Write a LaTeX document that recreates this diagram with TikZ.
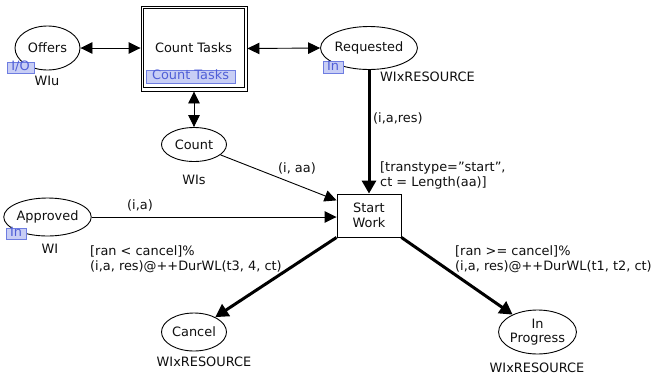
\documentclass[tikz,border=0pt]{standalone}
\usepackage{fontspec}
\setmainfont{DejaVu Sans}
\usetikzlibrary{arrows.meta,calc,shapes.geometric}

\definecolor{tagfill}{RGB}{200,206,245}
\definecolor{tagdraw}{RGB}{110,125,225}
\definecolor{tagtext}{RGB}{80,95,215}
\definecolor{ink}{RGB}{15,15,15}

\tikzset{
  txt/.style={font=\fontsize{12.9}{14.6}\selectfont, text=ink, inner sep=0pt},
  place/.style={txt, draw=black, line width=0.9pt, ellipse, inner sep=0pt},
  trans/.style={txt, draw=black, line width=0.9pt, rectangle, inner sep=0pt},
  tag/.style={font=\fontsize{12.9}{14.6}\selectfont, text=tagtext, fill=tagfill,
    draw=tagdraw, line width=0.7pt, inner sep=0pt, text height=8.5pt, text depth=2pt},
  arc/.style={line width=0.9pt, -{Triangle[length=12pt,width=11.5pt]}},
  biarc/.style={line width=0.9pt, {Triangle[length=12pt,width=11.5pt]}-{Triangle[length=12pt,width=11.5pt]}},
  thickarc/.style={line width=3pt, -{Triangle[length=13pt,width=14pt]}},
}

\begin{document}
\begin{tikzpicture}[x=1pt,y=-1pt]
\useasboundingbox (0,0) rectangle (657,376);

% places
\node[place, minimum width=65pt, minimum height=44pt] (offers) at (47.5,48) {Offers};
\node[place, minimum width=92pt, minimum height=43pt] (requested) at (369,48) {Requested};
\node[place, minimum width=65pt, minimum height=34pt] (count) at (194,144.5) {Count};
\node[place, minimum width=81pt, minimum height=38pt] (approved) at (47.5,217) {Approved};
\node[place, minimum width=65pt, minimum height=38pt] (cancel) at (194,332) {Cancel};
\node[place, minimum width=74pt, minimum height=44pt, align=center] (inprog) at (537.5,332) {In\\Progress};

% transitions
\node[trans, minimum width=106pt, minimum height=85pt] (ct) at (194,48.5) {};
\draw[line width=0.9pt] ($(ct.south west)+(3,-4)$) rectangle ($(ct.north east)+(-3,3)$);
\node[txt] (cttext) at (193.5,47.5) {Count Tasks};
\node[trans, minimum width=64pt, minimum height=43pt, align=center] (startwork) at (369,215.5) {Start\\Work};

% port and subpage tags
\node[tag, minimum width=27pt, minimum height=11pt] (tagio) at (20.5,67.5) {I/O};
\node[tag, minimum width=20pt, minimum height=12pt] (tagreq) at (333,67) {In};
\node[tag, minimum width=20pt, minimum height=11pt] (tagapp) at (16,233.5) {In};
\node[tag, minimum width=89pt, minimum height=13pt] (tagct) at (190.5,76.5) {Count Tasks};

% colour sets
\node[txt] (csoffers) at (47,81) {WIu};
\node[txt] (csreq) at (427.5,77) {WIxRESOURCE};
\node[txt] (cscount) at (194,180) {WIs};
\node[txt] (csapp) at (50,249) {WI};
\node[txt] (cscancel) at (204,362) {WIxRESOURCE};
\node[txt] (csinprog) at (537,368) {WIxRESOURCE};

% arcs
\draw[biarc] (offers.east) -- (offers.east -| ct.west);
\draw[biarc] (ct.east) -- (requested.west);
\draw[biarc] (ct.south) -- (count.north);
\draw[thickarc] (requested.south) -- (startwork.north);
\draw[arc] (count) -- (startwork.155.6);
\draw[arc] (approved.east) -- (approved.east -| startwork.west);
\draw[thickarc] (startwork.south west) -- (cancel.35);
\draw[thickarc] (startwork.south east) -- (inprog.145);

% arc inscriptions and guard
\node[txt, anchor=west] (lreq) at (373,118) {(i,a,res)};
\node[txt] (lcount) at (297,168) {(i, aa)};
\node[txt] (lapp) at (140,205) {(i,a)};
\node[txt, anchor=west, align=left] (guard) at (380,175.5) {[transtype="start",\\ct = Length(aa)]};
\node[txt, anchor=west, align=left] (lcancel) at (90,259.5) {[ran < cancel]\%\\(i,a, res)@++DurWL(t3, 4, ct)};
\node[txt, anchor=west, align=left] (linprog) at (455,259.5) {[ran >= cancel]\%\\(i,a, res)@++DurWL(t1, t2, ct)};
\end{tikzpicture}
\end{document}
